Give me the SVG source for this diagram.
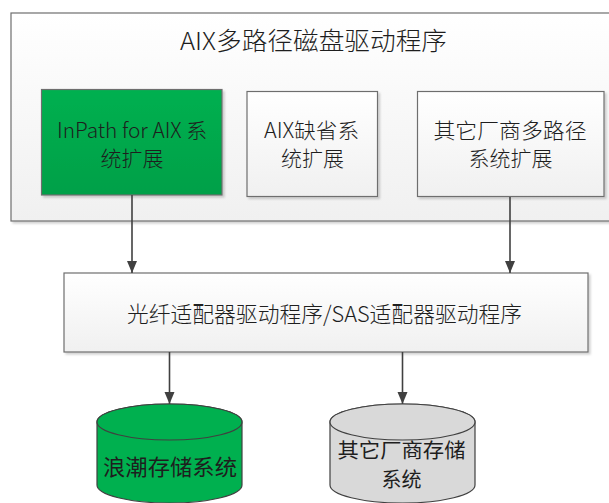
<svg xmlns="http://www.w3.org/2000/svg" width="609" height="503" viewBox="0 0 609 503">
<defs>
<linearGradient id="wg" x1="0" y1="0" x2="0" y2="1"><stop offset="0" stop-color="#ffffff"/><stop offset="1" stop-color="#f0f0f0"/></linearGradient>
<linearGradient id="gg" x1="0" y1="0" x2="0" y2="1"><stop offset="0" stop-color="#00b050"/><stop offset="1" stop-color="#00a048"/></linearGradient>
<filter id="sh" x="-5%" y="-5%" width="115%" height="120%"><feDropShadow dx="2" dy="2" stdDeviation="1.2" flood-color="#000" flood-opacity="0.18"/></filter>
<marker id="ah" markerWidth="12" markerHeight="12" viewBox="0 0 12 12" refX="12" refY="6" orient="auto" markerUnits="userSpaceOnUse"><path d="M0,1 L12,6 L0,11 Z" fill="#404040"/></marker>
</defs>
<style>
.box{stroke:#6e6e6e;stroke-width:1.2}
.t{font-family:"Noto Sans CJK SC","Noto Sans",sans-serif;fill:#1e1e1e;text-anchor:middle;dominant-baseline:central}
.lt{font-weight:300}
.c{stroke:#404040;stroke-width:1.6;fill:none}
.cyl{stroke:#404040;stroke-width:1.2}
</style>
<g id="outer">
<rect class="box" x="11" y="13" width="610" height="208" fill="url(#wg)" filter="url(#sh)"/>
<text class="t lt" x="313.5" y="39" font-size="25" textLength="267" lengthAdjust="spacingAndGlyphs">AIX多路径磁盘驱动程序</text>
</g>
<g id="inpath">
<rect class="box" x="41.5" y="89.5" width="180.5" height="105.5" fill="url(#gg)" filter="url(#sh)"/>
<text class="t lt" x="132" y="129" font-size="21" textLength="150" lengthAdjust="spacingAndGlyphs">InPath for AIX 系</text>
<text class="t lt" x="132" y="157" font-size="21">统扩展</text>
</g>
<g id="aixdefault">
<rect class="box" x="247" y="91.5" width="130.5" height="105" fill="url(#wg)" filter="url(#sh)"/>
<text class="t lt" x="311.5" y="129" font-size="21" textLength="95" lengthAdjust="spacingAndGlyphs">AIX缺省系</text>
<text class="t lt" x="312.5" y="157" font-size="21">统扩展</text>
</g>
<g id="othermp">
<rect class="box" x="417.5" y="91.5" width="186.5" height="105" fill="url(#wg)" filter="url(#sh)"/>
<text class="t lt" x="510" y="129" font-size="21" textLength="153" lengthAdjust="spacingAndGlyphs">其它厂商多路径</text>
<text class="t lt" x="510.5" y="157" font-size="21">系统扩展</text>
</g>
<g id="adapter">
<rect class="box" x="64" y="273" width="524" height="79" fill="url(#wg)" filter="url(#sh)"/>
<text class="t lt" x="324.5" y="312" font-size="22" textLength="395" lengthAdjust="spacingAndGlyphs">光纤适配器驱动程序/SAS适配器驱动程序</text>
</g>
<g id="inspur">
<path class="cyl" d="M97,422 L97,485 A72.5,18 0 0 0 242,485 L242,422 A72.5,18 0 0 0 97,422 Z" fill="#00b04f"/>
<ellipse class="cyl" cx="169.5" cy="422" rx="72.5" ry="18" fill="#00b04f"/>
<text class="t" x="170" y="465" font-size="22" textLength="134" lengthAdjust="spacingAndGlyphs" fill="#000">浪潮存储系统</text>
</g>
<g id="otherstorage">
<path class="cyl" d="M330,422 L330,485 A72.5,18 0 0 0 475,485 L475,422 A72.5,18 0 0 0 330,422 Z" fill="#d9d9d9"/>
<ellipse class="cyl" cx="402.5" cy="422" rx="72.5" ry="18" fill="#d9d9d9"/>
<text class="t" font-size="20"><tspan x="401.5" y="449" textLength="128" lengthAdjust="spacingAndGlyphs">其它厂商存储</tspan><tspan x="401.5" y="478">系统</tspan></text>
</g>
<g id="connectors">
<line class="c" x1="132" y1="195" x2="132" y2="273" marker-end="url(#ah)"/>
<line class="c" x1="510" y1="197" x2="510" y2="273" marker-end="url(#ah)"/>
<line class="c" x1="169.5" y1="352" x2="169.5" y2="404" marker-end="url(#ah)"/>
<line class="c" x1="402.5" y1="352" x2="402.5" y2="404" marker-end="url(#ah)"/>
</g>
</svg>
